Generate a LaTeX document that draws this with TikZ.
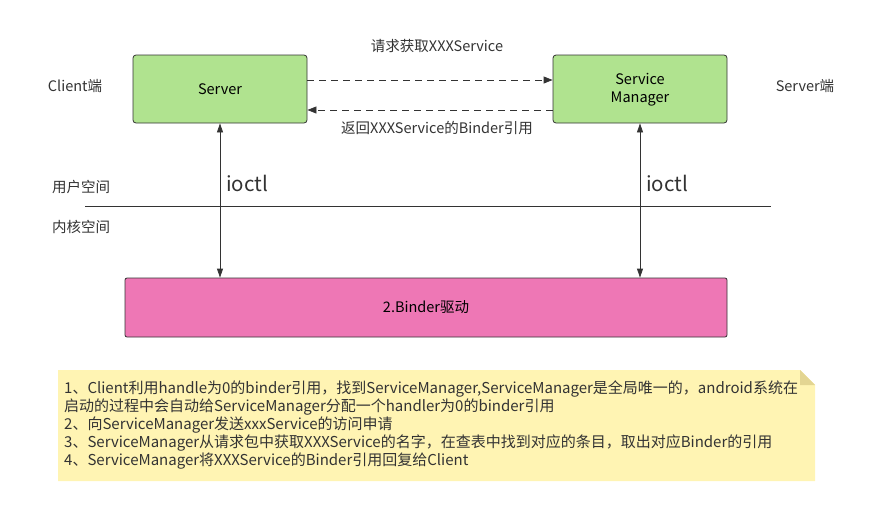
\documentclass[tikz,border=0pt]{standalone}
\usepackage{fontspec}
\setmainfont{Noto Sans CJK SC}
\usetikzlibrary{arrows.meta,positioning}

\definecolor{boxgreen}{HTML}{B0E38F}
\definecolor{drvpink}{HTML}{EE77B5}
\definecolor{noteyellow}{HTML}{FFF4B3}
\definecolor{notefold}{HTML}{E3D592}
\definecolor{linegray}{HTML}{333333}

\tikzset{
    procbox/.style={draw=linegray, line width=0.8pt, fill=boxgreen, rounded corners=3pt,
        minimum width=174pt, minimum height=68pt, align=center, font=\fontsize{14.5}{18}\selectfont},
    drvbox/.style={draw=linegray, line width=0.8pt, fill=drvpink, rounded corners=2pt,
        minimum width=602pt, minimum height=59pt, font=\fontsize{14.5}{18}\selectfont},
    msg/.style={draw=linegray, line width=0.8pt, dash pattern=on 7pt off 5pt, -{Triangle[length=9pt,width=7pt]}},
    call/.style={draw=linegray, line width=0.8pt, {Triangle[length=9pt,width=6pt]}-{Triangle[length=9pt,width=6pt]}},
    lbl/.style={font=\fontsize{14.5}{18}\selectfont, text=linegray, inner sep=1pt},
    bigl/.style={font=\fontsize{20.5}{24}\selectfont, text=linegray, inner sep=1pt}
}

\begin{document}
\begin{tikzpicture}[x=1pt,y=-1pt]
        \useasboundingbox (0,0) rectangle (880,507);

        % Process boxes
        \node[procbox] (server) at (220,89) {Server};
        \node[procbox] (svcmgr) at (640,89) {\strut Service\\Manager};

        % Requests between them
        \coordinate (reqa) at ([yshift=9pt]server.east);
        \coordinate (reqb) at ([yshift=9pt]svcmgr.west);
        \coordinate (repa) at ([yshift=-21pt]svcmgr.west);
        \coordinate (repb) at ([yshift=-21pt]server.east);
        \draw[msg] (reqa) -- (reqb);
        \draw[msg] (repa) -- (repb);
        \node[lbl] (reqlbl) at (437,46) {请求获取XXXService};
        \node[lbl] (replbl) at (437,128) {返回XXXService的Binder引用};

        % Side labels
        \node[lbl] (client) at (75,86) {Client端};
        \node[lbl] (serverside) at (805,86) {Server端};

        % User / kernel split
        \coordinate (splitl) at (85,206);
        \coordinate (splitr) at (771,206);
        \draw[draw=linegray, line width=0.8pt] (splitl) -- (splitr);
        \node[lbl] (userspace) at (81,187) {用户空间};
        \node[lbl] (kernelspace) at (81,227) {内核空间};

        % Binder driver
        \node[drvbox] (binder) at (426,307.5) {2.Binder驱动};

        % ioctl calls
        \draw[call] (server.south) -- (server.south |- binder.north);
        \draw[call] (svcmgr.south) -- (svcmgr.south |- binder.north);
        \node[bigl] (ioctla) at (247,183) {ioctl};
        \node[bigl] (ioctlb) at (667,183) {ioctl};

        % Note with folded corner
        \fill[noteyellow] (58,370) -- (800,370) -- (815,385) -- (815,481) -- (58,481) -- cycle;
        \fill[notefold] (800,370) -- (815,385) -- (800,385) -- cycle;
        \node[lbl, anchor=north west, align=left, font=\fontsize{15}{18}\selectfont, inner sep=0pt] (note) at (64,381)
            {1、Client利用handle为0的binder引用，找到ServiceManager,ServiceManager是全局唯一的，android系统在\\
             启动的过程中会自动给ServiceManager分配一个handler为0的binder引用\\
             2、向ServiceManager发送xxxService的访问申请\\
             3、ServiceManager从请求包中获取XXXService的名字，在查表中找到对应的条目，取出对应Binder的引用\\
             4、ServiceManager将XXXService的Binder引用回复给Client};
\end{tikzpicture}
\end{document}
